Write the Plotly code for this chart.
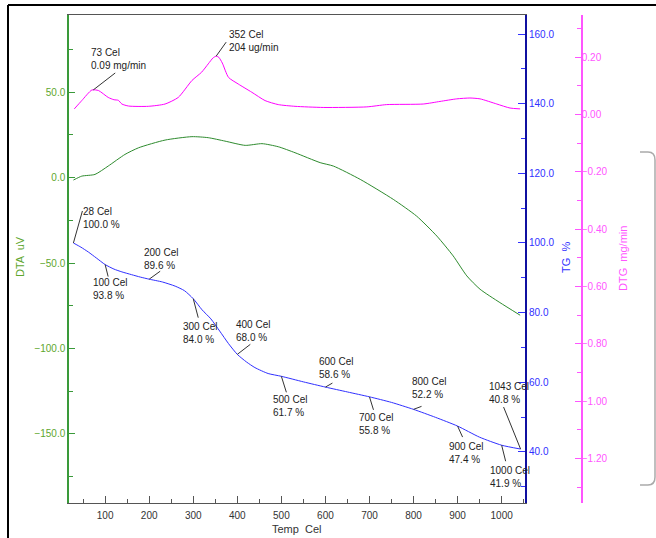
import plotly.graph_objects as go

# ---------------- data ----------------
tg_temp = [28, 45, 62, 80, 100, 120, 138, 160, 180, 200, 230, 259, 280, 300, 320, 340, 360, 380,
           400, 421, 440, 470, 500, 550, 600, 650, 700, 750, 800, 850, 900, 950, 1000, 1043]
tg_pct = [100.0, 98.8, 97.4, 95.7, 93.8, 92.5, 91.7, 90.9, 90.2, 89.6, 88.8, 87.6, 86.3, 84.0, 80.8, 78.2, 74.7, 71.1,
          68.0, 65.8, 64.2, 62.5, 61.7, 60.1, 58.6, 57.2, 55.8, 54.2, 52.2, 49.9, 47.4, 44.2, 41.9, 40.8]

dta_temp = [28, 47, 77, 107, 145, 176, 236, 297, 334, 372, 418, 456, 493, 531, 588, 618, 679, 754,
            807, 853, 890, 921, 951, 996, 1042]
dta_uv = [-1.4, 0.9, 1.9, 6.8, 13.6, 17.5, 22.0, 24.0, 23.4, 21.4, 18.9, 19.9, 18.1, 14.6, 8.8, 6.8, -1.0, -12.7,
          -22.5, -34.2, -45.8, -57.5, -65.3, -73.1, -80.5]

dtg_temp = [30, 47, 70, 85, 107, 120, 130, 138, 153, 198, 236, 266, 297, 319, 334, 345, 352, 358, 366, 380, 402, 433,
            463, 493, 531, 595, 694, 739, 822, 860, 898, 928, 951, 989, 1019, 1042]
dtg_mg = [0.020, 0.049, 0.086, 0.084, 0.060, 0.052, 0.050, 0.037, 0.030, 0.029, 0.037, 0.060, 0.119, 0.148,
          0.177, 0.198, 0.204, 0.200, 0.180, 0.130, 0.107, 0.078, 0.049, 0.035, 0.029, 0.025, 0.027, 0.035, 0.037, 0.046,
          0.055, 0.058, 0.055, 0.037, 0.023, 0.020]

tg_label_temp = [28, 100, 200, 300, 400, 500, 600, 700, 800, 900, 1000, 1043]
tg_label_val = [100.0, 93.8, 89.6, 84.0, 68.0, 61.7, 58.6, 55.8, 52.2, 47.4, 41.9, 40.8]

dtg_label_temp = [73, 352]
dtg_label_val = [0.086, 0.204]
dtg_label_text = ["0.09 mg/min", "204 ug/min"]

# ---------------- styles / offsets (pixels) ----------------
tg_leader = [(9, -32), (3, 12), (11, -8), (5, 19), (13, -10), (5, 16), (7, -4), (4, 13), (8, -3), (5, 11), (4, 16), (-17, -42)]
tg_textoff = [(8, -39), (-14, 10), (-7, -34), (-12, 20), (-3, -37), (-10, 16), (-8, -33), (-12, 13), (-4, -35), (-11, 13), (-14, 18), (-34, -70)]
dtg_leader = [(22, -17), (10, -14)]
dtg_textoff = [(-4, -45), (11, -29)]

W, H = 656, 538
ML, MR, MT, MB = 69, 74, 15, 35
PW, PH = W - ML - MR, H - MT - MB
XEND = (525 - ML) / PW

def px(x):
    return (x - ML) / PW

def py(y):
    return (H - MB - y) / PH

GREEN = "#2e8b2e"
GREEN_T = "#5ea62e"
BLUE = "#3030ff"
BLUE_AX = "#1010a0"
MAG = "#ff00ff"
MAG_AX = "#ff55ff"
FONT = "Liberation Sans, Arial, sans-serif"

fig = go.Figure()
fig.add_trace(go.Scatter(x=dta_temp, y=dta_uv, mode="lines", line=dict(color=GREEN, width=1, shape="spline", smoothing=0.6), yaxis="y", showlegend=False))
fig.add_trace(go.Scatter(x=tg_temp, y=tg_pct, mode="lines", line=dict(color=BLUE, width=1, shape="spline", smoothing=0.6), yaxis="y2", showlegend=False))
fig.add_trace(go.Scatter(x=dtg_temp, y=dtg_mg, mode="lines", line=dict(color=MAG, width=1, shape="spline", smoothing=0.6), yaxis="y3", showlegend=False))

shapes = []
annotations = []

for t, v, (lx, ly), (tx, ty) in zip(tg_label_temp, tg_label_val, tg_leader, tg_textoff):
    shapes.append(dict(type="line", xref="x", yref="y2", xsizemode="pixel", ysizemode="pixel",
                       xanchor=t, yanchor=v, x0=0, y0=0, x1=lx, y1=-ly,
                       line=dict(color="#333333", width=1)))
    annotations.append(dict(x=t, y=v, xref="x", yref="y2", showarrow=False, xanchor="left", yanchor="top",
                            xshift=tx, yshift=-ty, align="left",
                            text=f"{t} Cel<br>{v:.1f} %", font=dict(family=FONT, size=10, color="#222222")))

for t, v, s, (lx, ly), (tx, ty) in zip(dtg_label_temp, dtg_label_val, dtg_label_text, dtg_leader, dtg_textoff):
    shapes.append(dict(type="line", xref="x", yref="y3", xsizemode="pixel", ysizemode="pixel",
                       xanchor=t, yanchor=v, x0=0, y0=0, x1=lx, y1=-ly,
                       line=dict(color="#333333", width=1)))
    annotations.append(dict(x=t, y=v, xref="x", yref="y3", showarrow=False, xanchor="left", yanchor="top",
                            xshift=tx, yshift=-ty, align="left",
                            text=f"{t} Cel<br>{s}", font=dict(family=FONT, size=10, color="#222222")))

# outer frame lines
shapes.append(dict(type="line", xref="paper", yref="paper", x0=px(8), x1=px(660), y0=py(5), y1=py(5),
                   line=dict(color="black", width=2)))
shapes.append(dict(type="line", xref="paper", yref="paper", x0=px(8), x1=px(8), y0=py(5), y1=py(545),
                   line=dict(color="black", width=2)))
# grey bracket on the right
path = (f"M {px(640)},{py(152)} L {px(648)},{py(152)} Q {px(655)},{py(152)} {px(655)},{py(160)} "
        f"L {px(655)},{py(477)} Q {px(655)},{py(485)} {px(648)},{py(485)} L {px(640)},{py(485)}")
shapes.append(dict(type="path", xref="paper", yref="paper", path=path, line=dict(color="#aaaaaa", width=1.5)))

# axis titles
title_common = dict(xref="paper", yref="paper", showarrow=False, xanchor="center", yanchor="middle")
annotations.append(dict(x=px(20), y=py(257), text="DTA  uV", textangle=-90,
                        font=dict(family=FONT, size=11, color=GREEN_T), **title_common))
annotations.append(dict(x=px(566), y=py(258), text="TG  %", textangle=-90,
                        font=dict(family=FONT, size=11, color=BLUE), **title_common))
annotations.append(dict(x=px(623), y=py(259), text="DTG  mg/min", textangle=-90,
                        font=dict(family=FONT, size=11, color=MAG_AX), **title_common))
annotations.append(dict(x=px(297), y=py(529), text="Temp  Cel",
                        font=dict(family=FONT, size=11, color="#333333"), **title_common))

fig.update_layout(
    template="none",
    width=W, height=H,
    margin=dict(l=ML, r=MR, t=MT, b=MB, pad=0),
    paper_bgcolor="white", plot_bgcolor="white",
    font=dict(family=FONT, size=10),
    showlegend=False,
    xaxis=dict(domain=[0, XEND], range=[18, 1053], showgrid=False, zeroline=False,
               showline=True, linecolor="#555555", linewidth=1, mirror=True,
               ticks="inside", ticklen=7, tickcolor="#555555", tick0=0, dtick=100,
               tickfont=dict(family=FONT, size=10, color="#333333"), ticklabelstandoff=3,
               minor=dict(ticks="inside", ticklen=4, tickcolor="#555555", dtick=50, tick0=0, showgrid=False),
               automargin=False),
    yaxis=dict(range=[-190.4, 95.2], showgrid=False, zeroline=False,
               showline=True, linecolor="#3a9a3a", linewidth=1.5,
               ticks="inside", ticklen=6, tickcolor="#3a9a3a", tick0=0, dtick=50, tickformat=".1f",
               tickfont=dict(family=FONT, size=10, color=GREEN_T),
               minor=dict(ticks="inside", ticklen=4, tickcolor="#3a9a3a", dtick=25, tick0=0, showgrid=False),
               automargin=False),
    yaxis2=dict(range=[25.3, 165.5], overlaying="y", side="right", anchor="x", showgrid=False, zeroline=False,
                showline=True, linecolor=BLUE_AX, linewidth=2,
                ticks="inside", ticklen=7, tickcolor=BLUE, tick0=0, dtick=20, tickformat=".1f",
                tickfont=dict(family=FONT, size=10, color=BLUE),
                minor=dict(ticks="inside", ticklen=4, tickcolor=BLUE, dtick=10, tick0=0, showgrid=False),
                automargin=False),
    yaxis3=dict(range=[-1.355, 0.3476], overlaying="y", side="right", anchor="free", position=1.0,
                showgrid=False, zeroline=False,
                showline=True, linecolor=MAG_AX, linewidth=1.5,
                ticks="inside", ticklen=6, tickcolor=MAG_AX, tick0=0, dtick=0.2, tickformat=".2f",
                tickfont=dict(family=FONT, size=10, color=MAG_AX), ticklabelstandoff=-3,
                minor=dict(ticks="inside", ticklen=4, tickcolor=MAG_AX, dtick=0.1, tick0=0, showgrid=False),
                automargin=False),
    shapes=shapes,
    annotations=annotations,
)

fig.write_html("out.html", config={"displayModeBar": False},
               post_script="document.body.style.margin='0';document.body.style.overflow='hidden';")
